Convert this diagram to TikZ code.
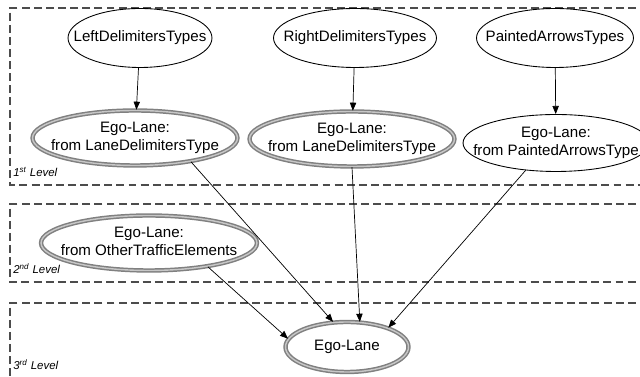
\documentclass[tikz,border=0pt]{standalone}
\usepackage{fontspec}
\setmainfont{Liberation Sans}
\usetikzlibrary{shapes,arrows,arrows.meta,positioning}
% text that does not size its ellipse
\newcommand{\lab}[1]{\smash{\raisebox{-2.4pt}{\makebox[0pt]{\begin{tabular}{@{}c@{}}#1\end{tabular}}}}}
\tikzset{%
    level/.style={dash pattern=on 4.5pt off 2.4pt,draw=black!70,line width=0.65pt},
}
\tikzstyle{typ}=[draw, ellipse, inner sep=0pt, line width=0.5pt, minimum height=1.18cm, font=\fontsize{8.6}{10}\selectfont]
\tikzstyle{ego}=[typ, draw=black!50, double=black!22, double distance=0.8pt, line width=0.85pt, minimum height=1.1cm]
\tikzstyle{lvl}=[anchor=base west, inner sep=0pt, font=\fontsize{6.5}{7}\selectfont\itshape]

\begin{document}
\begin{tikzpicture}[x=0.02cm,y=-0.02cm,>={Triangle[length=4.6pt,width=3.6pt]}]
      \useasboundingbox (0,0) rectangle (640,377);
      \clip (0,0) rectangle (640,377);
      % levels
      \draw[level] (660,8) -- (10,8) -- (10,185) -- (660,185);
      \draw[level] (660,204) -- (10,204) -- (10,282) -- (660,282);
      \draw[level] (660,303) -- (10,303) -- (10,390);
      \node[lvl] (l1) at (13,177) {1\textsuperscript{st} Level};
      \node[lvl] (l2) at (13,274) {2\textsuperscript{nd} Level};
      \node[lvl] (l3) at (13,370) {3\textsuperscript{rd} Level};

      % 1st level
      \node[typ, minimum width=2.88cm] (left) at (140,38) {\lab{LeftDelimitersTypes}};
      \node[typ, minimum width=3.26cm] (right) at (355,38) {\lab{RightDelimitersTypes}};
      \node[typ, minimum width=3.14cm] (arrows) at (555,38) {\lab{PaintedArrowsTypes}};
      \node[ego, minimum width=4.1cm] (egoleft) at (135,138) {\lab{Ego-Lane:\\ from LaneDelimitersType}};
      \node[ego, minimum width=4.1cm] (egoright) at (352,139) {\lab{Ego-Lane:\\ from LaneDelimitersType}};
      \node[typ, minimum width=3.72cm, minimum height=1.14cm] (egoarrows) at (556,143) {\lab{Ego-Lane:\\ from PaintedArrowsType}};
      % 2nd level
      \node[ego, minimum width=4.32cm] (egoother) at (149,243) {\lab{Ego-Lane:\\ from OtherTrafficElements}};
      % 3rd level
      \node[ego, minimum width=2.46cm, minimum height=1.0cm] (ego) at (347,347) {\lab{Ego-Lane}};

      \draw[->] (left) -- (egoleft);
      \draw[->] (right) -- (egoright);
      \draw[->] (arrows) -- (egoarrows);
      \draw[->] (egoleft.-23) -- (ego.119);
      \draw[->] (egoright.south) -- (ego.63);
      \draw[->] (egoarrows.222) -- (ego.25);
      \draw[->] (egoother.-22) -- (ego.172);
    \end{tikzpicture}
\end{document}
